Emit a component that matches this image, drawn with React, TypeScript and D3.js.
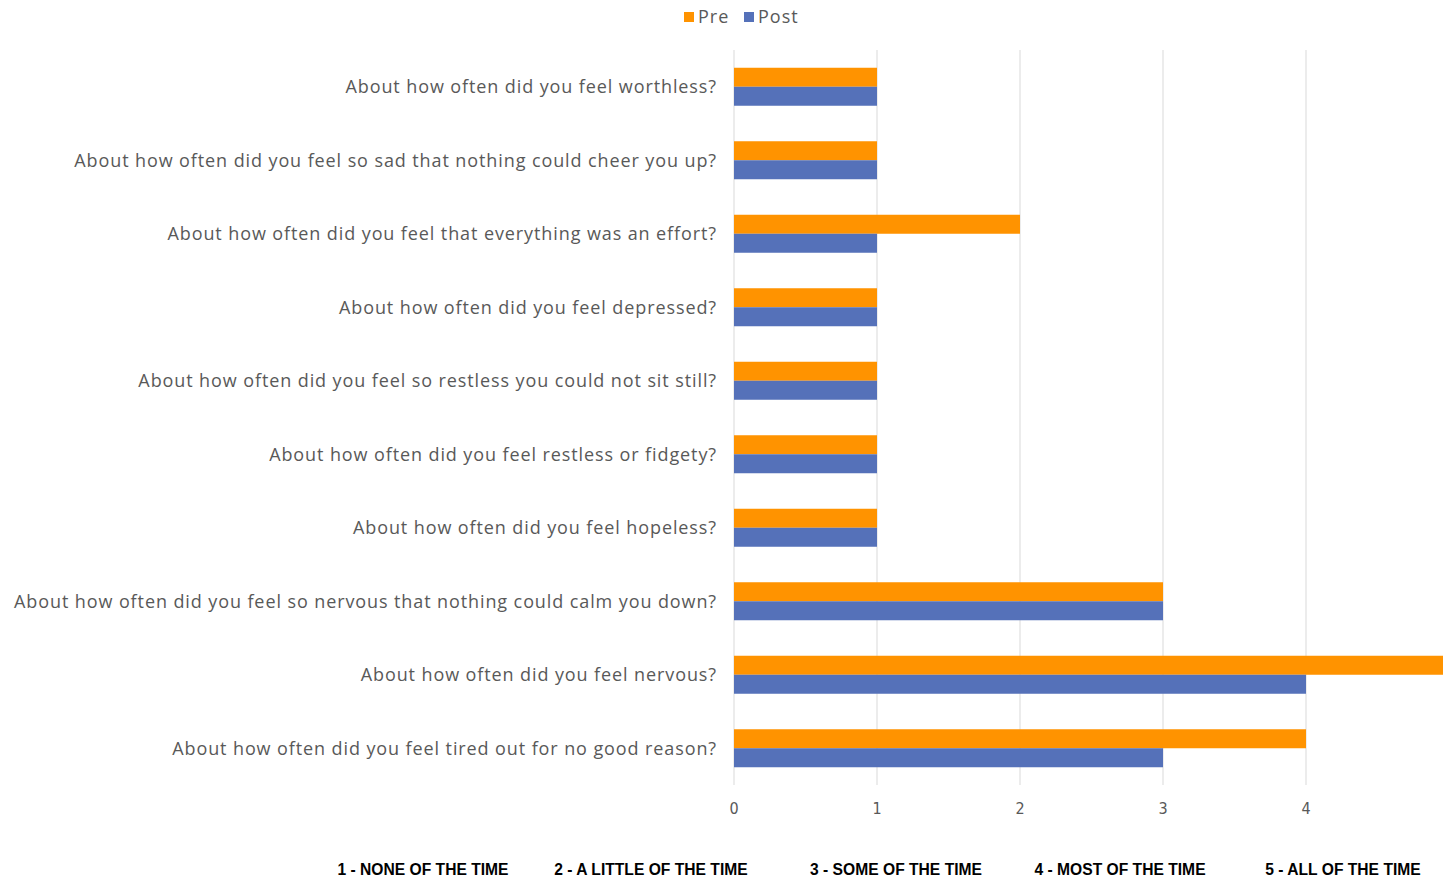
import React from "react";
import * as d3 from "d3";

const categories = [
  "About how often did you feel worthless?",
  "About how often did you feel so sad that nothing could cheer you up?",
  "About how often did you feel that everything was an effort?",
  "About how often did you feel depressed?",
  "About how often did you feel so restless you could not sit still?",
  "About how often did you feel restless or fidgety?",
  "About how often did you feel hopeless?",
  "About how often did you feel so nervous that nothing could calm you down?",
  "About how often did you feel nervous?",
  "About how often did you feel tired out for no good reason?",
];
const preValues = [1, 1, 2, 1, 1, 1, 1, 3, 5, 4];
const postValues = [1, 1, 1, 1, 1, 1, 1, 3, 4, 3];
const xTicks = [0, 1, 2, 3, 4];
const scaleLabels = [
  "1 - NONE OF THE TIME",
  "2 - A LITTLE OF THE TIME",
  "3 - SOME OF THE TIME",
  "4 - MOST OF THE TIME",
  "5 - ALL OF THE TIME",
];
const scaleLabelCenters = [423, 651, 896, 1120, 1343];
const seriesNames = ["Pre", "Post"];
const colors = { Pre: "#FF9300", Post: "#5571B9" };

export default function App() {
  const W = 1443;
  const H = 880;
  const x = d3.scaleLinear().domain([0, 5]).range([734, 1449]);
  const y = d3
    .scaleBand<string>()
    .domain(categories)
    .range([50, 785])
    .paddingInner(0.483)
    .paddingOuter(0.2415);
  const inner = d3
    .scaleBand<string>()
    .domain(seriesNames)
    .range([0, y.bandwidth()]);
  const font = "'Open Sans', sans-serif";
  return (
    <svg
      width={W}
      height={H}
      style={{ position: "absolute", left: 0, top: 0, background: "#fff" }}
    >
      {xTicks.map((t) => (
        <g key={t}>
          <line x1={x(t)} x2={x(t)} y1={50} y2={785} stroke="#d9d9d9" strokeWidth={1} />
          <text
            x={x(t)}
            y={814}
            textAnchor="middle"
            fontFamily="'Liberation Sans Narrow', 'DejaVu Sans Condensed', sans-serif"
            fontSize={16}
            fill="#595959"
          >
            {t}
          </text>
        </g>
      ))}
      {categories.map((c, i) => (
        <g key={c}>
          <rect
            x={x(0)}
            y={(y(c) as number) + (inner("Pre") as number)}
            width={x(preValues[i]) - x(0)}
            height={inner.bandwidth()}
            fill={colors.Pre}
          />
          <rect
            x={x(0)}
            y={(y(c) as number) + (inner("Post") as number)}
            width={x(postValues[i]) - x(0)}
            height={inner.bandwidth()}
            fill={colors.Post}
          />
          <text
            x={717}
            y={(y(c) as number) + y.bandwidth() / 2}
            dy="0.35em"
            textAnchor="end"
            fontFamily={font}
            fontSize={18}
            letterSpacing={0.9}
            fill="#595959"
          >
            {c}
          </text>
        </g>
      ))}
      {/* legend */}
      <rect x={684} y={12} width={10} height={10} fill={colors.Pre} />
      <text x={698} y={17} dy="0.35em" fontFamily={font} fontSize={18} letterSpacing={1} fill="#595959">
        Pre
      </text>
      <rect x={744} y={12} width={10} height={10} fill={colors.Post} />
      <text x={758} y={17} dy="0.35em" fontFamily={font} fontSize={18} letterSpacing={1} fill="#595959">
        Post
      </text>
      {scaleLabels.map((s, i) => (
        <text
          key={s}
          transform={`translate(${scaleLabelCenters[i]},869) scale(0.92,1)`}
          dy="0.35em"
          textAnchor="middle"
          fontFamily="'Liberation Sans Narrow', 'Liberation Sans', sans-serif"
          fontWeight="bold"
          fontSize={17}
          fill="#000"
        >
          {s}
        </text>
      ))}
    </svg>
  );
}
